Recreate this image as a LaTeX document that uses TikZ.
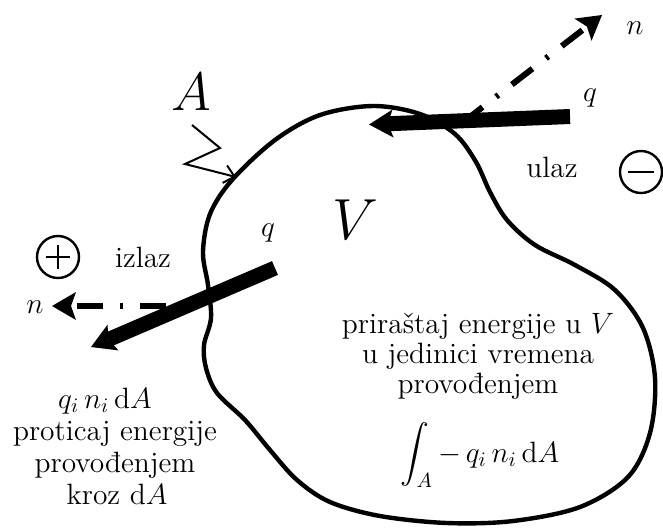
\RequirePackage{fix-cm}
\documentclass[tikz,border=0pt]{standalone}
\usepackage{exscale}
\usetikzlibrary{arrows.meta}
\begin{document}
\begin{tikzpicture}[x=0.5pt,y=-0.5pt,
  txt/.style={font=\fontsize{14.7}{15}\selectfont, inner sep=0pt},
  bigtxt/.style={font=\fontsize{27}{30}\selectfont, inner sep=0pt},
  outline/.style={line width=2.2pt, line join=round},
  flux/.style={line width=7.5pt, -{Stealth[length=12pt,width=14pt,inset=2.5pt,line width=0pt]}},
  normalvec/.style={line width=3pt, dash pattern=on 13pt off 8.5pt on 1.5pt off 8.5pt,
     -{Stealth[length=12pt,width=14pt,inset=2.5pt,line width=0pt]}},
  sign/.style={circle, draw, line width=1.2pt, minimum size=21pt, inner sep=0pt},
  pointer/.style={line width=1pt, line join=miter, -{Straight Barb[length=5pt,width=9pt]}}
]
\useasboundingbox (0,0) rectangle (663,527);

% control volume outline
\draw[outline] plot[smooth cycle, tension=0.55] coordinates {
  (320,115) (373,106) (420,114) (455,134) (476,162) (490,192) (507,220)
  (535,245) (575,265) (615,290) (643,328) (655,378) (650,433) (628,477)
  (580,507) (513,521) (447,523) (380,516) (330,502) (297,480) (270,450)
  (245,420) (217,393) (206,368) (204,345) (211,318) (208,285) (203,252)
  (210,214) (232,180) (275,140)};

% normal vectors
\coordinate (ntop-s) at (462,123);
\coordinate (ntop-e) at (602,15);
\coordinate (nleft-s) at (166,306);
\coordinate (nleft-e) at (52,306);
\draw[normalvec] (ntop-s) -- (ntop-e);
\draw[normalvec] (nleft-s) -- (nleft-e);

% heat flux vectors
\coordinate (qtop-s) at (570,116.5);
\coordinate (qtop-e) at (369,124.5);
\coordinate (qleft-s) at (275,268);
\coordinate (qleft-e) at (91,347);
\draw[flux] (qtop-s) -- (qtop-e);
\draw[flux] (qleft-s) -- (qleft-e);

% pointer to surface A
\coordinate (p0) at (192,125);
\coordinate (p1) at (220,148);
\coordinate (p2) at (185,164);
\coordinate (p3) at (236,177);
\draw[pointer] (p0) -- (p1) -- (p2) -- (p3);

% signs
\node[sign] (plus) at (58,257) {};
\draw[line width=1.2pt] ([xshift=-6pt]plus.center) -- ([xshift=6pt]plus.center);
\draw[line width=1.2pt] ([yshift=-6pt]plus.center) -- ([yshift=6pt]plus.center);
\node[sign] (minus) at (641,172) {};
\draw[line width=1.2pt] ([xshift=-6.5pt]minus.center) -- ([xshift=6.5pt]minus.center);

% labels
\node[bigtxt] (lA) at (191,92) {$A$};
\node[font=\fontsize{29}{32}\selectfont, inner sep=0pt] (lV) at (355,220) {$V$};
\node[txt] (qt) at (590,98) {$q$};
\node[txt] (ql) at (268,233) {$q$};
\node[txt] (nt) at (635,28) {$n$};
\node[txt] (nl) at (35,307) {$n$};
\node[txt, anchor=base] (ulaz) at (552,177) {ulaz};
\node[txt, anchor=base] (izlaz) at (143,267) {izlaz};

% right text block
\node[txt, anchor=base] (r1) at (478,333) {priraštaj energije u $V$};
\node[txt, anchor=base] (r2) at (478,363) {u jedinici vremena};
\node[txt, anchor=base] (r3) at (478,393) {provođenjem};
\node[txt, anchor=base] (r4) at (480,462) {$\displaystyle\int_A -\, q_i\, n_i\, \mathrm{d}A$};

% left text block
\node[txt, anchor=base] (l1) at (105,408) {$q_i\, n_i\, \mathrm{d}A$};
\node[txt, anchor=base] (l2) at (115,440) {proticaj energije};
\node[txt, anchor=base] (l3) at (115,472) {provođenjem};
\node[txt, anchor=base] (l4) at (117,504) {kroz d$A$};
\end{tikzpicture}
\end{document}
